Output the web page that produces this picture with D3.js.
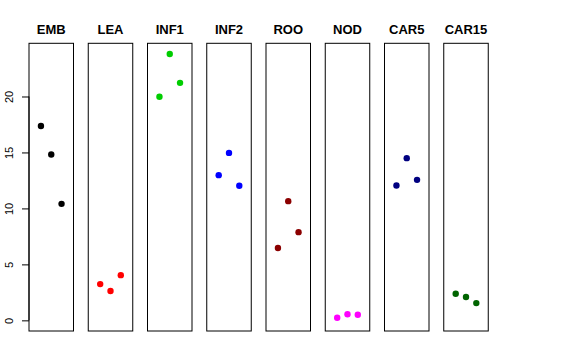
<!DOCTYPE html>
<html><head><meta charset="utf-8">
<script src="https://cdn.jsdelivr.net/npm/d3@7"></script>
<style>body{margin:0;background:#fff}svg{display:block}</style>
</head><body>
<script>
const categories = ["EMB","LEA","INF1","INF2","ROO","NOD","CAR5","CAR15"];
const colors = ["#000000","#FF0000","#00CD00","#0000FF","#8B0000","#FF00FF","#000080","#006400"];
const values = [
  [17.37, 14.82, 10.41],
  [3.24, 2.62, 4.04],
  [19.97, 23.8, 21.22],
  [12.97, 14.96, 12.02],
  [6.46, 10.65, 7.88],
  [0.23, 0.54, 0.50],
  [12.05, 14.49, 12.55],
  [2.38, 2.08, 1.54]
];
const yTicks = [0,5,10,15,20];

(function(){
const W = 576, H = 360;
const svg = d3.select("body").append("svg").attr("width", W).attr("height", H);

const plotTop = 43.3, plotBottom = 331;
const yMin = 0, yMax = d3.max(values.flat());
const pad = (yMax - yMin) * 0.04;
const y = d3.scaleLinear().domain([yMin - pad, yMax + pad]).range([plotBottom, plotTop]);

const x0 = d3.scaleBand().domain(categories).range([29, 29 + 59.25 * 8]);
const pw = 44.5;
const x = d3.scaleLinear().domain([-0.16, 4.16]).range([0, pw]);

categories.forEach((c, i) => {
  const g = svg.append("g").attr("transform", `translate(${x0(c)},0)`);
  g.append("rect").attr("x", 0).attr("y", plotTop).attr("width", pw).attr("height", plotBottom - plotTop)
    .attr("fill", "none").attr("stroke", "#000").attr("stroke-width", 1);
  g.append("text").attr("x", pw / 2).attr("y", 34).attr("text-anchor", "middle")
    .attr("font-family", "Liberation Sans, Arial, sans-serif").attr("font-weight", "bold")
    .attr("font-size", 13).text(c);
  g.selectAll("circle").data(values[i]).join("circle")
    .attr("cx", (d, j) => x(j + 1)).attr("cy", d => y(d)).attr("r", 3.2)
    .attr("fill", colors[i]);
});

const axis = d3.axisLeft(y).tickValues(yTicks).tickSize(7).tickFormat(d3.format("d"));
const ag = svg.append("g").attr("transform", "translate(29,0)").call(axis);
ag.select(".domain").attr("d", `M0,${y(0)}V${y(20)}`).attr("stroke", "#000");
ag.selectAll(".tick line").attr("stroke", "#000");
ag.selectAll(".tick text")
  .attr("font-family", "Liberation Sans, Arial, sans-serif").attr("font-size", 11).attr("fill", "#000")
  .attr("transform", "rotate(-90)").attr("x", 0).attr("y", -16).attr("dy", "0").attr("text-anchor", "middle");
})();
</script>
</body></html>
